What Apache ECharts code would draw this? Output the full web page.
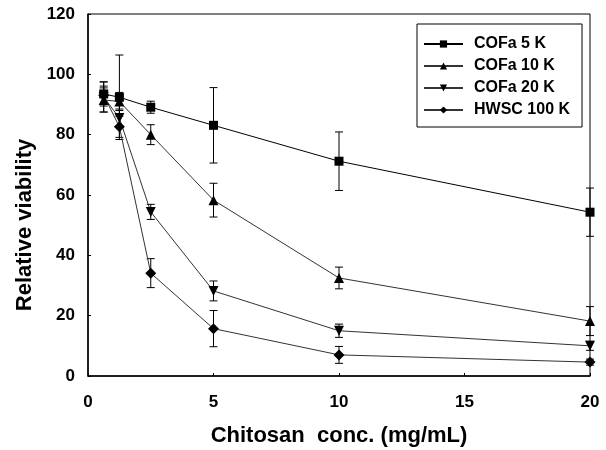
<!DOCTYPE html>
<html><head><meta charset="utf-8">
<script src="https://cdn.jsdelivr.net/npm/echarts@6/dist/echarts.min.js"></script>
<style>html,body{margin:0;padding:0;background:#fff}#c{width:606px;height:450px}</style>
</head><body><div id="c"></div>
<script>
var conc = [0.625, 1.25, 2.5, 5, 10, 20];
var seriesNames = ['COFa 5 K', 'COFa 10 K', 'COFa 20 K', 'HWSC 100 K'];
var cofa5 = [93.5, 92.4, 89.1, 83.1, 71.2, 54.3];
var cofa5Err = [4, 14, 2, 12.5, 9.7, 8];
var cofa10 = [91.5, 91, 80, 58.3, 32.5, 18.2];
var cofa10Err = [4, 3, 3.3, 5.6, 3.6, 4.8];
var cofa20 = [92.5, 85.5, 54.4, 28.2, 15, 10];
var cofa20Err = [5, 3, 2.5, 3.3, 2.2, 1.5];
var hwsc100 = [93.1, 82.6, 34.1, 15.7, 7, 4.6];
var hwsc100Err = [3, 3.5, 4.8, 6, 2.8, 1];
var xTicks = [0, 5, 10, 15, 20];
var yTicks = [0, 20, 40, 60, 80, 100, 120];

var values = [cofa5, cofa10, cofa20, hwsc100];
var errs = [cofa5Err, cofa10Err, cofa20Err, hwsc100Err];
var symbols = ['rect', 'triangle', 'triangle', 'diamond'];
var rot = [0, 0, 180, 0];
var sizes = [9, 10, 10, 11];
var FONT = 'Liberation Sans, Arial, sans-serif';

var chart = echarts.init(document.getElementById('c'));
var series = [];
values.forEach(function (vals, i) {
  var eb = conc.map(function (x, j) { return [x, vals[j] - errs[i][j], vals[j] + errs[i][j]]; });
  series.push({
    type: 'custom', name: seriesNames[i] + '_err', silent: true, z: 1,
    data: eb,
    renderItem: function (params, api) {
      var x = api.value(0);
      var lo = api.coord([x, api.value(1)]);
      var hi = api.coord([x, api.value(2)]);
      var w = 4;
      var st = { stroke: '#000', lineWidth: 1 };
      return { type: 'group', children: [
        { type: 'line', shape: { x1: lo[0], y1: lo[1], x2: hi[0], y2: hi[1] }, style: st },
        { type: 'line', shape: { x1: lo[0] - w, y1: lo[1], x2: lo[0] + w, y2: lo[1] }, style: st },
        { type: 'line', shape: { x1: hi[0] - w, y1: hi[1], x2: hi[0] + w, y2: hi[1] }, style: st }
      ]};
    },
    encode: { x: 0, y: [1, 2] }
  });
  series.push({
    type: 'line', name: seriesNames[i], z: 3,
    data: conc.map(function (x, j) { return [x, vals[j]]; }),
    symbol: symbols[i], symbolSize: sizes[i], symbolRotate: rot[i],
    showAllSymbol: true,
    lineStyle: { color: i === 0 ? '#000' : '#333', width: 1 },
    itemStyle: { color: '#000' }
  });
});

chart.setOption({
  animation: false,
  backgroundColor: '#fff',
  grid: { left: 88, right: 16, top: 14, bottom: 74, show: true, borderColor: '#000', borderWidth: 1,
    outerBoundsMode: 'none', containLabel: false },
  legend: {
    data: seriesNames, orient: 'vertical', left: 417, top: 24,
    padding: [12, 12, 9, 6], itemGap: 6, itemWidth: 39, itemHeight: 9,
    borderColor: '#000', borderWidth: 1,
    textStyle: { fontFamily: FONT, fontWeight: 'bold', fontSize: 16, color: '#000', padding: [0, 0, 0, 6] }
  },
  xAxis: {
    type: 'value', min: 0, max: 20, interval: 5,
    name: 'Chitosan  conc. (mg/mL)', nameLocation: 'middle', nameGap: 49,
    nameTextStyle: { fontFamily: FONT, fontWeight: 'bold', fontSize: 22, color: '#000' },
    axisLine: { lineStyle: { color: '#000', width: 1.5 } },
    axisTick: { inside: true, length: 3, lineStyle: { color: '#000' } },
    axisLabel: { fontFamily: FONT, fontWeight: 'bold', fontSize: 17, color: '#000', margin: 18,
      formatter: function (v) { return xTicks.indexOf(v) >= 0 ? String(v) : ''; } },
    splitLine: { show: false }
  },
  yAxis: {
    type: 'value', min: 0, max: 120, interval: 20,
    name: 'Relative viability', nameLocation: 'middle', nameGap: 51,
    nameTextStyle: { fontFamily: FONT, fontWeight: 'bold', fontSize: 22, color: '#000', padding: [0, 60, 0, 0] },
    axisLine: { lineStyle: { color: '#000', width: 1.5 } },
    axisTick: { inside: true, length: 3, lineStyle: { color: '#000' } },
    axisLabel: { fontFamily: FONT, fontWeight: 'bold', fontSize: 17, color: '#000', margin: 13,
      formatter: function (v) { return yTicks.indexOf(v) >= 0 ? String(v) : ''; } },
    splitLine: { show: false }
  },
  series: series
});
</script></body></html>
